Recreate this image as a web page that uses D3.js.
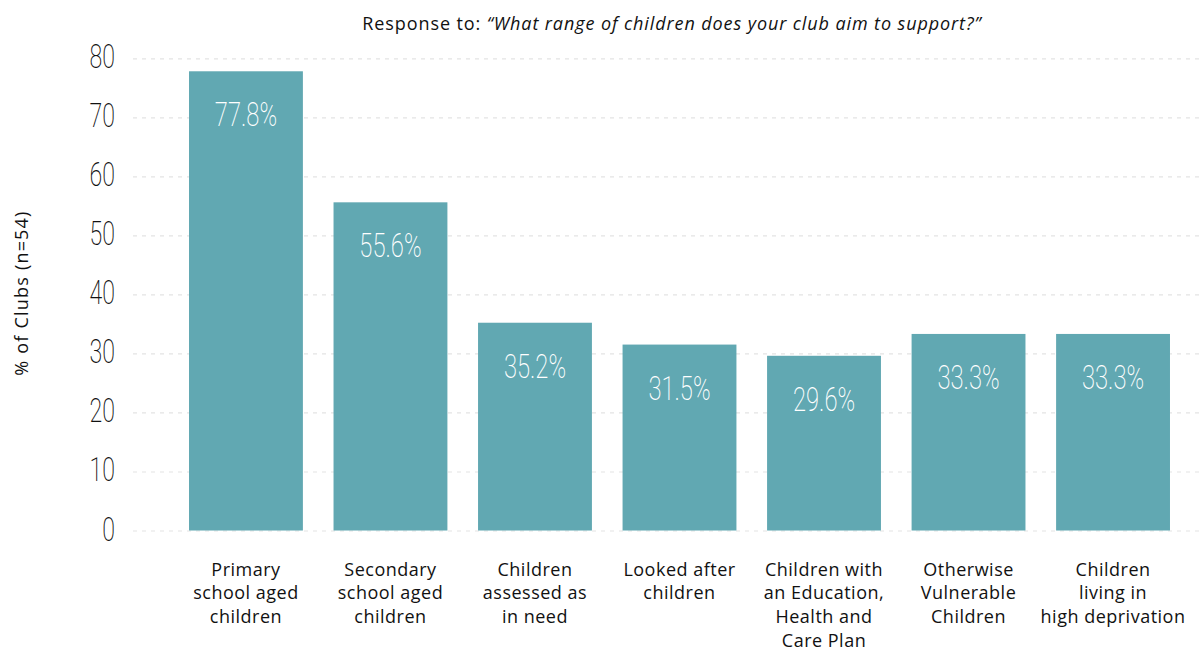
<!DOCTYPE html>
<html>
<head>
<meta charset="utf-8">
<script src="https://cdn.jsdelivr.net/npm/d3@7"></script>
<style>
  body { margin: 0; background: #fff; }
  svg { display: block; }
</style>
</head>
<body>
<div class="vis"></div>
<script>
// data
var categories = ["Primary\nschool aged\nchildren", "Secondary\nschool aged\nchildren", "Children\nassessed as\nin need",
  "Looked after\nchildren", "Children with\nan Education,\nHealth and\nCare Plan", "Otherwise\nVulnerable\nChildren",
  "Children\nliving in\nhigh deprivation"]
var values = [77.8, 55.6, 35.2, 31.5, 29.6, 33.3, 33.3]
var yTicks = [0, 10, 20, 30, 40, 50, 60, 70, 80]

var width = 1200
height = 647
barColor = "#61a8b2"

var svg = d3.select(".vis").append("svg")
    .attr("width", width)
    .attr("height", height)

var x = d3.scaleBand()
    .domain(d3.range(categories.length))
    .range([173.7, 1185.3])
    .paddingInner(0.212)
    .paddingOuter(0.106)
var y = d3.scaleLinear()
    .domain([0, 80])
    .range([530.5, 58.3])

// grid + tick labels
var yAxis = svg.append("g")
    .attr("transform", "translate(133,0)")
    .call(d3.axisLeft(y).tickValues(yTicks).tickSize(-(width - 133)))
yAxis.select(".domain").remove()
yAxis.selectAll(".tick line")
    .attr("stroke", "#e4e4e4")
    .attr("stroke-width", 1.2)
    .attr("stroke-dasharray", "4,5")
yAxis.selectAll(".tick text")
    .attr("x", 0)
    .attr("dy", null)
    .attr("text-anchor", "end")
    .attr("transform", "translate(-18,9.5) scale(0.68,1)")
    .style("font-family", "Roboto")
    .style("font-weight", 200)
    .style("font-size", "34px")
    .attr("fill", "#111")

// bars
svg.selectAll(".bar").data(values)
  .enter().append("rect")
    .attr("class", "bar")
    .attr("x", (d, i) => x(i))
    .attr("y", d => y(d))
    .attr("width", x.bandwidth())
    .attr("height", d => y(0) - y(d))
    .attr("fill", barColor)

// value labels inside bars
svg.selectAll(".val").data(values)
  .enter().append("text")
    .attr("class", "val")
    .attr("transform", (d, i) => "translate(" + (x(i) + x.bandwidth() / 2) + "," + (y(d) + 55) + ") scale(0.72,1)")
    .attr("text-anchor", "middle")
    .style("font-family", "Roboto")
    .style("font-weight", 200)
    .style("font-size", "33px")
    .attr("fill", "#fff")
    .text(d => d.toFixed(1) + "%")

// category labels
var cat = svg.selectAll(".cat").data(categories)
  .enter().append("text")
    .attr("class", "cat")
    .attr("text-anchor", "middle")
    .style("font-family", "Open Sans")
    .style("font-size", "18px")
    .style("letter-spacing", "0.5px")
    .attr("fill", "#111")
cat.each(function(d, i) {
  d3.select(this).selectAll("tspan").data(d.split("\n"))
    .enter().append("tspan")
      .attr("x", x(i) + x.bandwidth() / 2)
      .attr("y", (l, j) => 575.5 + j * 23.7)
      .text(l => l)
})

// title
var title = svg.append("text")
    .attr("x", 672)
    .attr("y", 30)
    .attr("text-anchor", "middle")
    .style("font-family", "Open Sans")
    .style("font-size", "18px")
    .style("letter-spacing", "0.9px")
    .attr("fill", "#111")
title.append("tspan").text("Response to: ")
title.append("tspan").style("font-style", "italic").text("\u201CWhat range of children does your club aim to support?\u201D")

// y label
svg.append("text")
    .attr("transform", "translate(28,293) rotate(-90)")
    .attr("text-anchor", "middle")
    .style("font-family", "Open Sans")
    .style("font-size", "18px")
    .style("letter-spacing", "1.2px")
    .attr("fill", "#111")
    .text("% of Clubs (n=54)")
</script>
</body>
</html>
